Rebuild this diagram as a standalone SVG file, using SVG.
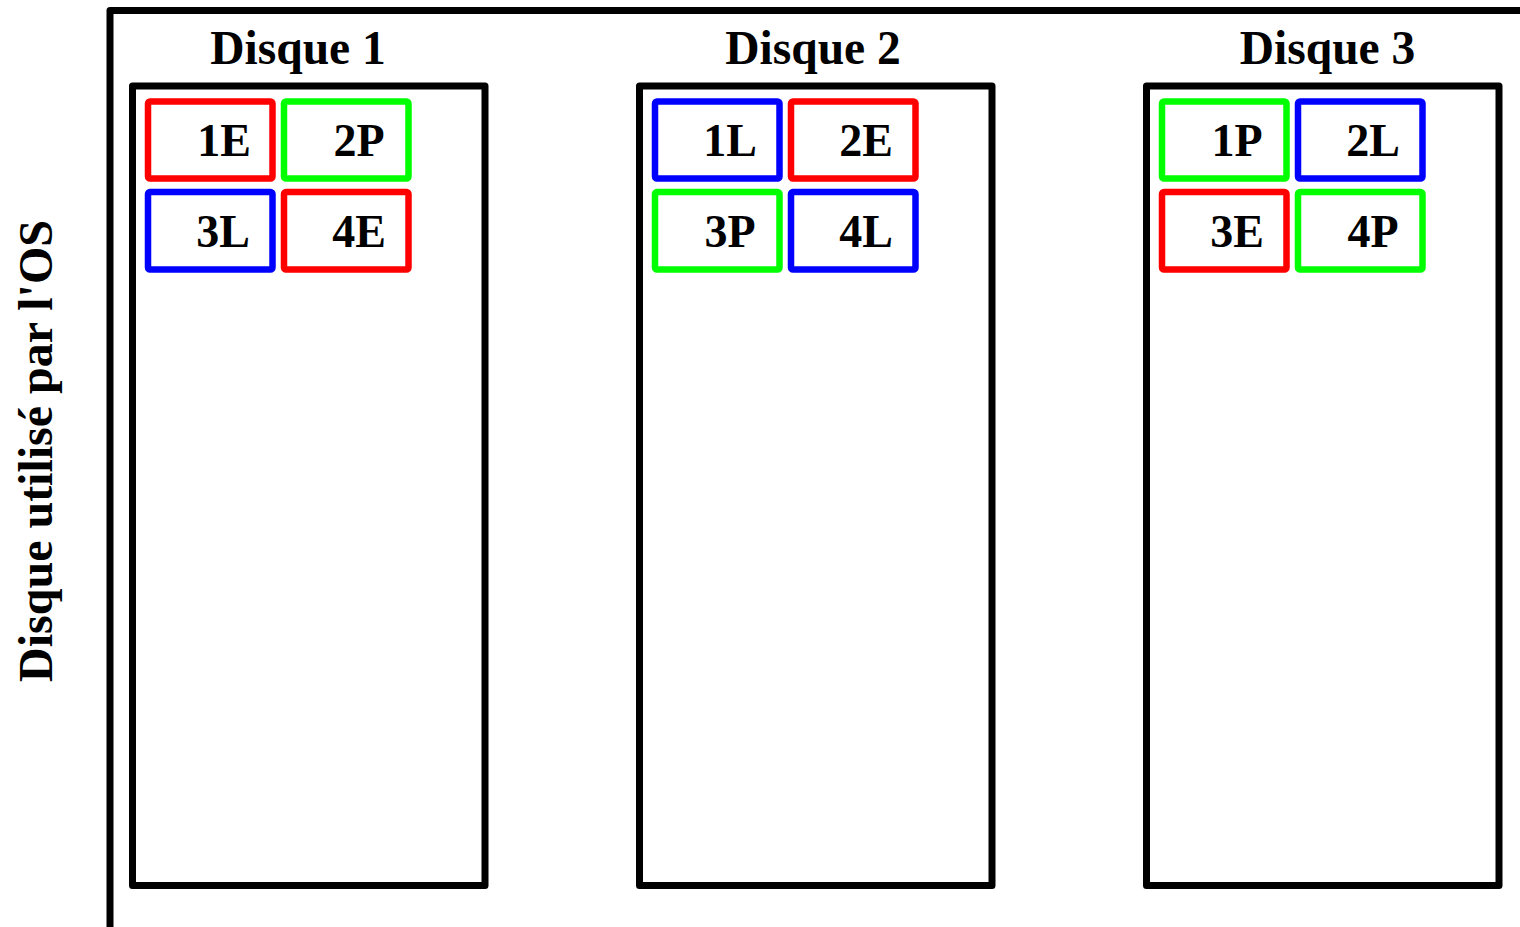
<svg xmlns="http://www.w3.org/2000/svg" width="1520" height="927" viewBox="0 0 1520 927">
<style>
.frame{fill:none;stroke:#000;stroke-width:7;stroke-linejoin:round}
.disk{fill:#fff;stroke:#000;stroke-width:7;stroke-linejoin:round}
.cell{fill:#fff;stroke-width:6.5;stroke-linejoin:round}
.E{stroke:#ff0000}.P{stroke:#00ff00}.L{stroke:#0000ff}
text{font-family:"Liberation Serif","Times New Roman",serif;font-weight:bold;fill:#000;text-anchor:middle}
.title{font-size:47.5px}
.vt{font-size:48px}
.lbl{font-size:46px}
</style>
<rect width="1520" height="927" fill="#fff"/>
<g id="frame">
<path class="frame" d="M110,930 L110,10.5 L1525,10.5"/>
<text class="title vt" transform="translate(52,451) rotate(-90)">Disque utilisé par l'OS</text>
</g>
<g id="disque1">
<text class="title" x="298" y="64">Disque 1</text>
<rect class="disk" x="132.5" y="86" width="352.5" height="799.5"/>
<rect class="cell E" x="148" y="101.5" width="124.5" height="77" rx="2"/>
<rect class="cell P" x="284" y="101.5" width="124.5" height="77" rx="2"/>
<rect class="cell L" x="148" y="192" width="124.5" height="77.5" rx="2"/>
<rect class="cell E" x="284" y="192" width="124.5" height="77.5" rx="2"/>
<text class="lbl" x="224" y="156">1E</text>
<text class="lbl" x="359" y="156">2P</text>
<text class="lbl" x="223" y="247">3L</text>
<text class="lbl" x="359" y="247">4E</text>
</g>
<g id="disque2">
<text class="title" x="813" y="64">Disque 2</text>
<rect class="disk" x="639.5" y="86" width="352.5" height="799.5"/>
<rect class="cell L" x="655" y="101.5" width="124.5" height="77" rx="2"/>
<rect class="cell E" x="791" y="101.5" width="124.5" height="77" rx="2"/>
<rect class="cell P" x="655" y="192" width="124.5" height="77.5" rx="2"/>
<rect class="cell L" x="791" y="192" width="124.5" height="77.5" rx="2"/>
<text class="lbl" x="730" y="156">1L</text>
<text class="lbl" x="866" y="156">2E</text>
<text class="lbl" x="730" y="247">3P</text>
<text class="lbl" x="866" y="247">4L</text>
</g>
<g id="disque3">
<text class="title" x="1327.5" y="64">Disque 3</text>
<rect class="disk" x="1146.5" y="86" width="352.5" height="799.5"/>
<rect class="cell P" x="1162" y="101.5" width="124.5" height="77" rx="2"/>
<rect class="cell L" x="1298" y="101.5" width="124.5" height="77" rx="2"/>
<rect class="cell E" x="1162" y="192" width="124.5" height="77.5" rx="2"/>
<rect class="cell P" x="1298" y="192" width="124.5" height="77.5" rx="2"/>
<text class="lbl" x="1237" y="156">1P</text>
<text class="lbl" x="1373" y="156">2L</text>
<text class="lbl" x="1237" y="247">3E</text>
<text class="lbl" x="1373" y="247">4P</text>
</g>
<g id="connectors"></g>
</svg>
